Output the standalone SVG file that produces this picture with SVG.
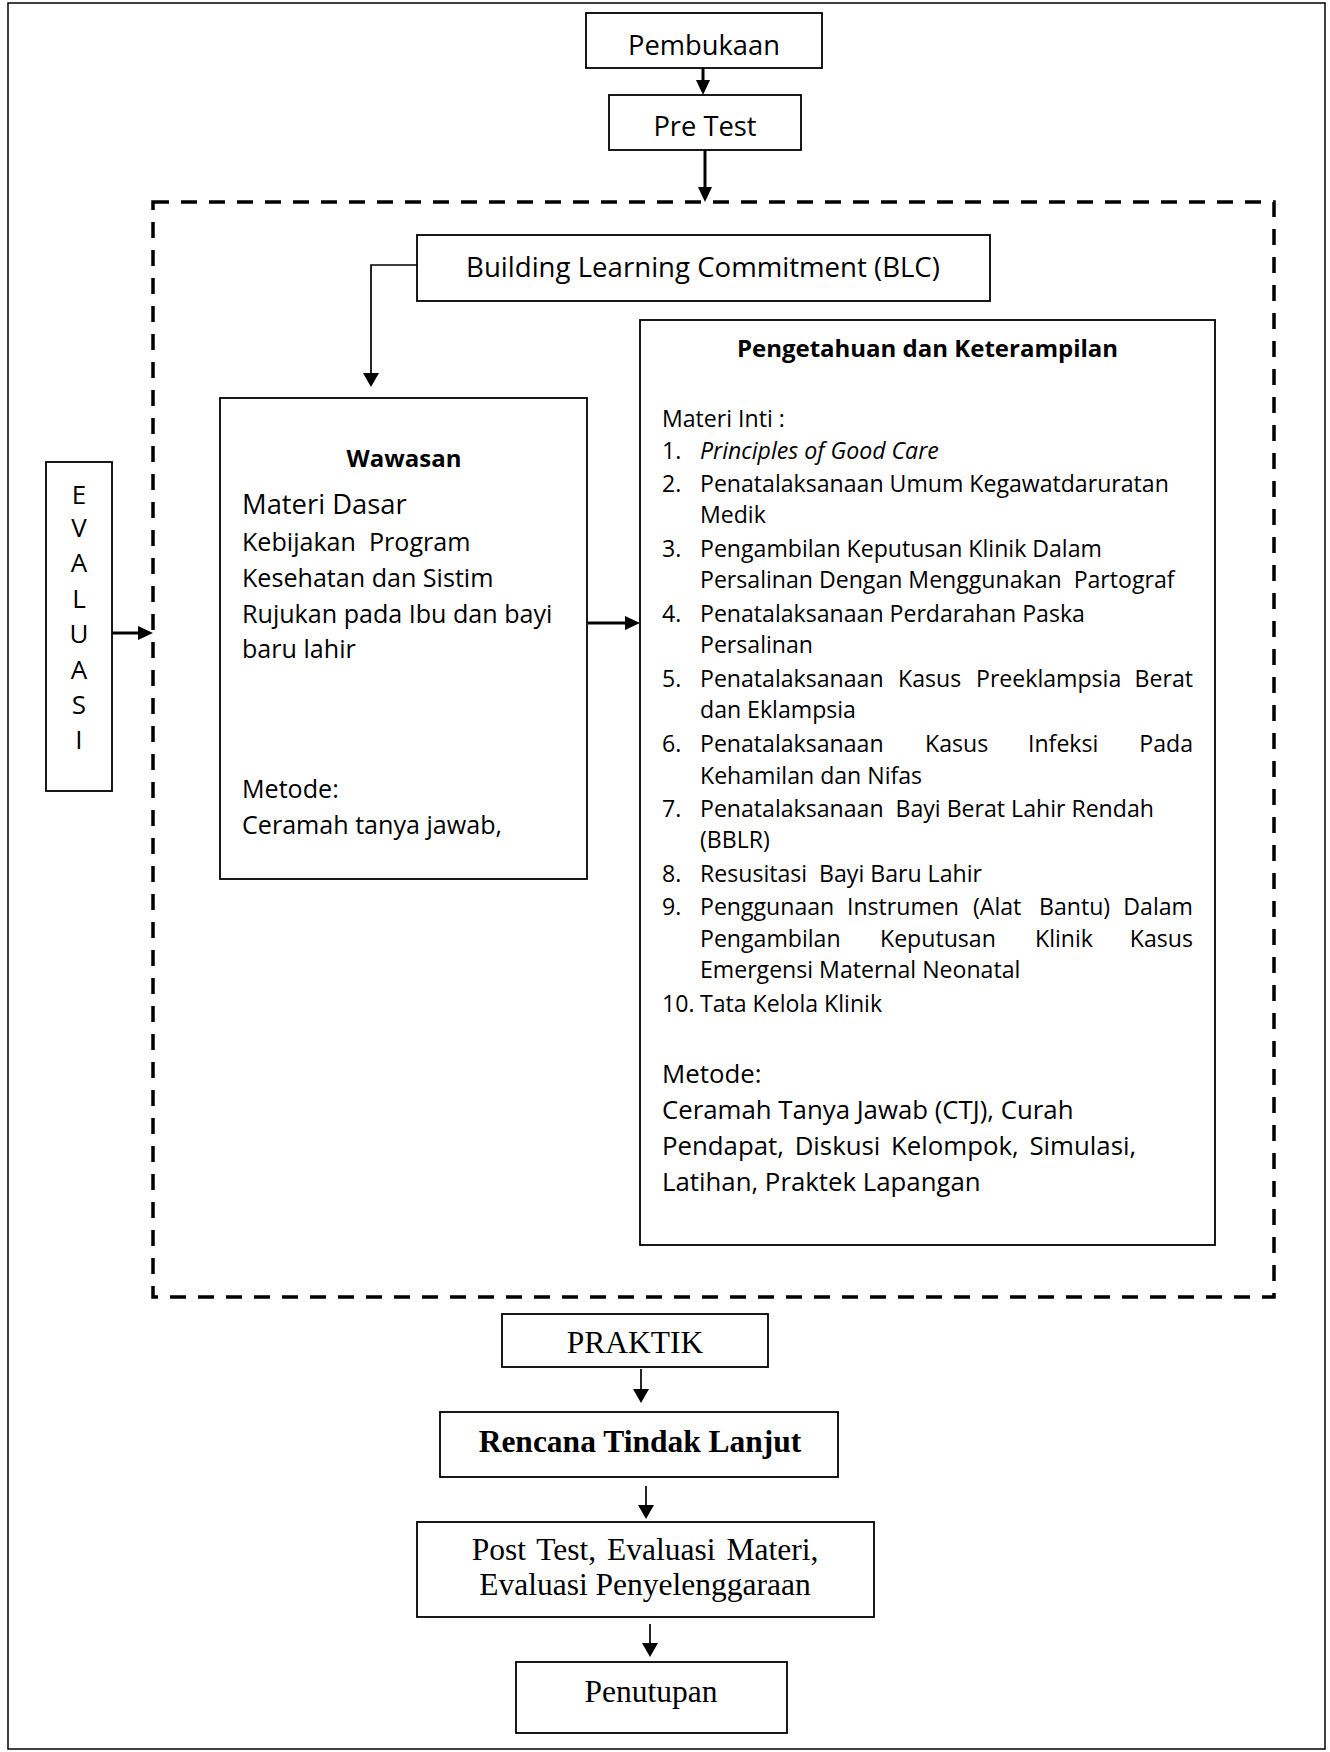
<svg xmlns="http://www.w3.org/2000/svg" width="1330" height="1752" viewBox="0 0 1330 1752">
<style>
.box{fill:#fff;stroke:#000;stroke-width:1.8}
.sans{font-family:"Open Sans","Noto Sans",sans-serif;fill:#000}
.serif{font-family:"Liberation Serif","Times New Roman",serif;fill:#000}
.con{fill:none;stroke:#000}
.thick{stroke-width:3;marker-end:url(#ahThick)}
.thin{stroke-width:1.7;marker-end:url(#ahThin)}
.mid{text-anchor:middle}
.end{text-anchor:end}
.t27{font-size:27.3px}
.t25{font-size:25.1px}
.t23{font-size:23.1px}
.t26{font-size:25.8px}
.s31{font-size:31.5px}
</style>
<defs>
<marker id="ahThick" markerUnits="userSpaceOnUse" markerWidth="16" markerHeight="16" refX="1" refY="7" orient="auto"><path d="M0,0 L15,7 L0,14 z" fill="#000"/></marker>
<marker id="ahThin" markerUnits="userSpaceOnUse" markerWidth="16" markerHeight="17" refX="1" refY="8" orient="auto"><path d="M0,0 L14,8 L0,16 z" fill="#000"/></marker>
</defs>
<rect x="0" y="0" width="1330" height="1752" fill="#fff"/>
<rect id="frame" x="8" y="3" width="1317" height="1746" fill="none" stroke="#000" stroke-width="1.5"/>
<rect id="dashed-area" x="153" y="202" width="1121" height="1095" fill="none" stroke="#000" stroke-width="3.5" stroke-dasharray="16 12"/>

<g id="connectors">
<path class="con thick" d="M703,68 L703,81"/>
<path class="con thick" d="M705,150 L705,188"/>
<path class="con thin" d="M417,265 L371,265 L371,374"/>
<path class="con thick" d="M112,633 L139,633"/>
<path class="con thick" d="M588,623 L626,623"/>
<path class="con thin" d="M641,1369 L641,1390"/>
<path class="con thin" d="M646,1486 L646,1506"/>
<path class="con thin" d="M650,1624 L650,1644"/>
</g>

<g id="pembukaan">
<rect class="box" x="586" y="13" width="236" height="55"/>
<text class="sans t27 mid" x="704" y="55">Pembukaan</text>
</g>
<g id="pretest">
<rect class="box" x="609" y="95" width="192" height="55"/>
<text class="sans t27 mid" x="705" y="136">Pre Test</text>
</g>
<g id="blc">
<rect class="box" x="417" y="235" width="573" height="66"/>
<text class="sans mid" x="703" y="277" font-size="27.6px">Building Learning Commitment (BLC)</text>
</g>
<g id="evaluasi">
<rect class="box" x="46" y="462" width="66" height="329"/>
<g class="sans mid" font-size="26px">
<text x="79" y="504">E</text>
<text x="79" y="537">V</text>
<text x="79" y="572">A</text>
<text x="79" y="608">L</text>
<text x="79" y="643">U</text>
<text x="79" y="679">A</text>
<text x="79" y="714">S</text>
<text x="79" y="749">I</text>
</g>
</g>
<g id="wawasan">
<rect class="box" x="220" y="398" width="367" height="481"/>
<text class="sans mid" x="404" y="467" font-size="24px" font-weight="bold">Wawasan</text>
<text class="sans" x="242" y="514" font-size="27.4px">Materi Dasar</text>
<g class="sans t25">
<text x="242" y="551" xml:space="preserve">Kebijakan  Program</text>
<text x="242" y="587">Kesehatan dan Sistim</text>
<text x="242" y="623">Rujukan pada Ibu dan bayi</text>
<text x="242" y="658">baru lahir</text>
<text x="242" y="798">Metode:</text>
<text x="242" y="834">Ceramah tanya jawab,</text>
</g>
</g>
<g id="pengetahuan">
<rect class="box" x="640" y="320" width="575" height="925"/>
<text class="sans mid" x="927.5" y="357" font-size="24px" font-weight="bold">Pengetahuan dan Keterampilan</text>
<g class="sans t23">
<text x="662" y="427">Materi Inti :</text>
<text x="662" y="459">1.</text><text x="700" y="459" font-style="italic">Principles of Good Care</text>
<text x="662" y="492">2.</text><text x="700" y="492">Penatalaksanaan Umum Kegawatdaruratan</text>
<text x="700" y="523">Medik</text>
<text x="662" y="557">3.</text><text x="700" y="557">Pengambilan Keputusan Klinik Dalam</text>
<text x="700" y="588" xml:space="preserve">Persalinan Dengan Menggunakan  Partograf</text>
<text x="662" y="622">4.</text><text x="700" y="622">Penatalaksanaan Perdarahan Paska</text>
<text x="700" y="653">Persalinan</text>
<text x="662" y="687">5.</text><text x="700" y="687">Penatalaksanaan</text><text x="898" y="687">Kasus</text><text x="976" y="687">Preeklampsia</text><text class="end" x="1193" y="687">Berat</text>
<text x="700" y="718">dan Eklampsia</text>
<text x="662" y="752">6.</text><text x="700" y="752">Penatalaksanaan</text><text x="925" y="752">Kasus</text><text x="1028" y="752">Infeksi</text><text class="end" x="1193" y="752">Pada</text>
<text x="700" y="784">Kehamilan dan Nifas</text>
<text x="662" y="817">7.</text><text x="700" y="817" xml:space="preserve">Penatalaksanaan  Bayi Berat Lahir Rendah</text>
<text x="700" y="848">(BBLR)</text>
<text x="662" y="882">8.</text><text x="700" y="882" xml:space="preserve">Resusitasi  Bayi Baru Lahir</text>
<text x="662" y="915">9.</text><text x="700" y="915">Penggunaan</text><text x="847" y="915">Instrumen</text><text x="973" y="915">(Alat</text><text x="1039" y="915">Bantu)</text><text class="end" x="1193" y="915">Dalam</text>
<text x="700" y="947">Pengambilan</text><text x="880" y="947">Keputusan</text><text x="1035" y="947">Klinik</text><text class="end" x="1193" y="947">Kasus</text>
<text x="700" y="978">Emergensi Maternal Neonatal</text>
<text x="662" y="1012">10.</text><text x="700" y="1012">Tata Kelola Klinik</text>
</g>
<g class="sans t26">
<text x="662" y="1083">Metode:</text>
<text x="662" y="1119">Ceramah Tanya Jawab (CTJ), Curah</text>
<text x="662" y="1155" word-spacing="4">Pendapat, Diskusi Kelompok, Simulasi,</text>
<text x="662" y="1191">Latihan, Praktek Lapangan</text>
</g>
</g>
<g id="praktik">
<rect class="box" x="502" y="1314" width="266" height="53"/>
<text class="serif s31 mid" x="635" y="1353">PRAKTIK</text>
</g>
<g id="rtl">
<rect class="box" x="440" y="1412" width="398" height="65"/>
<text class="serif mid" x="640" y="1452" font-size="31.5px" font-weight="bold">Rencana Tindak Lanjut</text>
</g>
<g id="posttest">
<rect class="box" x="417" y="1522" width="457" height="95"/>
<text class="serif s31 mid" x="645" y="1560" word-spacing="3">Post Test, Evaluasi Materi,</text>
<text class="serif s31 mid" x="645" y="1595">Evaluasi Penyelenggaraan</text>
</g>
<g id="penutupan">
<rect class="box" x="516" y="1662" width="271" height="71"/>
<text class="serif s31 mid" x="651" y="1702">Penutupan</text>
</g>
</svg>
